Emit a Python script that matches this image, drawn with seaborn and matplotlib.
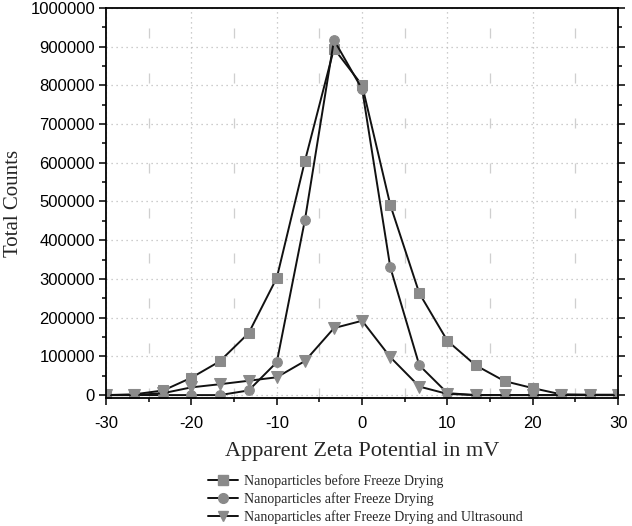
import numpy as np
import pandas as pd
import matplotlib.pyplot as plt
import seaborn as sns
from matplotlib.ticker import MultipleLocator
from matplotlib.lines import Line2D

# zeta potential (mV)
zeta = [-30, -26.7, -23.3, -20, -16.7, -13.3, -10, -6.7, -3.3, 0,
        3.3, 6.7, 10, 13.3, 16.7, 20, 23.3, 26.7, 30]

before_fd = [0, 2000, 12000, 45000, 87000, 160000, 303000, 605000, 895000, 800000,
             491000, 263000, 140000, 77000, 36000, 18000, 2000, 1000, 1000]
after_fd = [0, 0, 0, 0, 0, 12000, 85000, 453000, 917000, 790000,
            330000, 77000, 5000, 0, 0, 0, 0, 0, 0]
after_fd_us = [0, 0, 5000, 20000, 28000, 37000, 46000, 88000, 173000, 192000,
               98000, 22000, 3000, 0, 0, 0, 0, 0, 0]

labels = ['Nanoparticles before Freeze Drying',
          'Nanoparticles after Freeze Drying',
          'Nanoparticles after Freeze Drying and Ultrasound']
markers = ['s', 'o', 'v']

sns.set_style('ticks')
fig = plt.figure(figsize=(6.32, 5.26), dpi=100)
ax = fig.add_axes([0.168, 0.243, 0.81, 0.742])

grey = '#8a8a8a'
for vals, lab, m in zip([before_fd, after_fd, after_fd_us], labels, markers):
    df = pd.DataFrame({'zeta': zeta, 'counts': vals})
    sns.lineplot(data=df, x='zeta', y='counts', ax=ax, color='#111111', lw=1.4,
                 marker=m, markersize=7 if m != 'v' else 8.5,
                 markerfacecolor=grey, markeredgecolor=grey, label=lab, legend=False)

ax.set_xlim(-30, 30)
ax.set_ylim(-8000, 1000000)
ax.xaxis.set_major_locator(MultipleLocator(10))
ax.xaxis.set_minor_locator(MultipleLocator(5))
ax.yaxis.set_major_locator(MultipleLocator(100000))
ax.yaxis.set_minor_locator(MultipleLocator(50000))

# grid: dotted at majors, dashed grey at x minors
ax.grid(which='major', axis='both', color='#bdbdbd', linestyle=(0, (1, 3)), lw=0.9)
ax.grid(which='minor', axis='x', color='#cfcfcf', linestyle=(0, (8, 28)), lw=0.9)
ax.set_axisbelow(True)

for s in ax.spines.values():
    s.set_linewidth(1.3)
    s.set_color('black')
ax.tick_params(which='both', direction='out', right=True, top=False, width=1.1,
               labelsize=12, colors='black')
ax.tick_params(which='major', length=5)
ax.tick_params(which='minor', length=3)
ax.tick_params(axis='x', pad=8)
ax.tick_params(axis='y', pad=3)
ax.set_xticklabels([f'{int(v)}' for v in ax.get_xticks()])
ax.set_yticklabels([f'{int(v)}' for v in ax.get_yticks()])
for t in ax.get_xticklabels() + ax.get_yticklabels():
    t.set_fontfamily('Liberation Sans')

ax.set_xlabel('Apparent Zeta Potential in mV', fontsize=16, fontfamily='Liberation Serif',
              labelpad=8)
ax.set_ylabel('Total Counts', fontsize=15, fontfamily='Liberation Serif', labelpad=5)

handles = [Line2D([0], [0], color='#111111', lw=1.4, marker=m, markersize=7,
                  markerfacecolor=grey, markeredgecolor=grey) for m in markers]
fig.legend(handles, labels, loc='upper left', bbox_to_anchor=(0.329, 0.099),
           frameon=False, prop={'family': 'Liberation Serif', 'size': 10},
           handlelength=2.2, handletextpad=0.4, labelspacing=0.3, borderaxespad=0,
           borderpad=0)

fig.savefig('out.png', dpi=100)
